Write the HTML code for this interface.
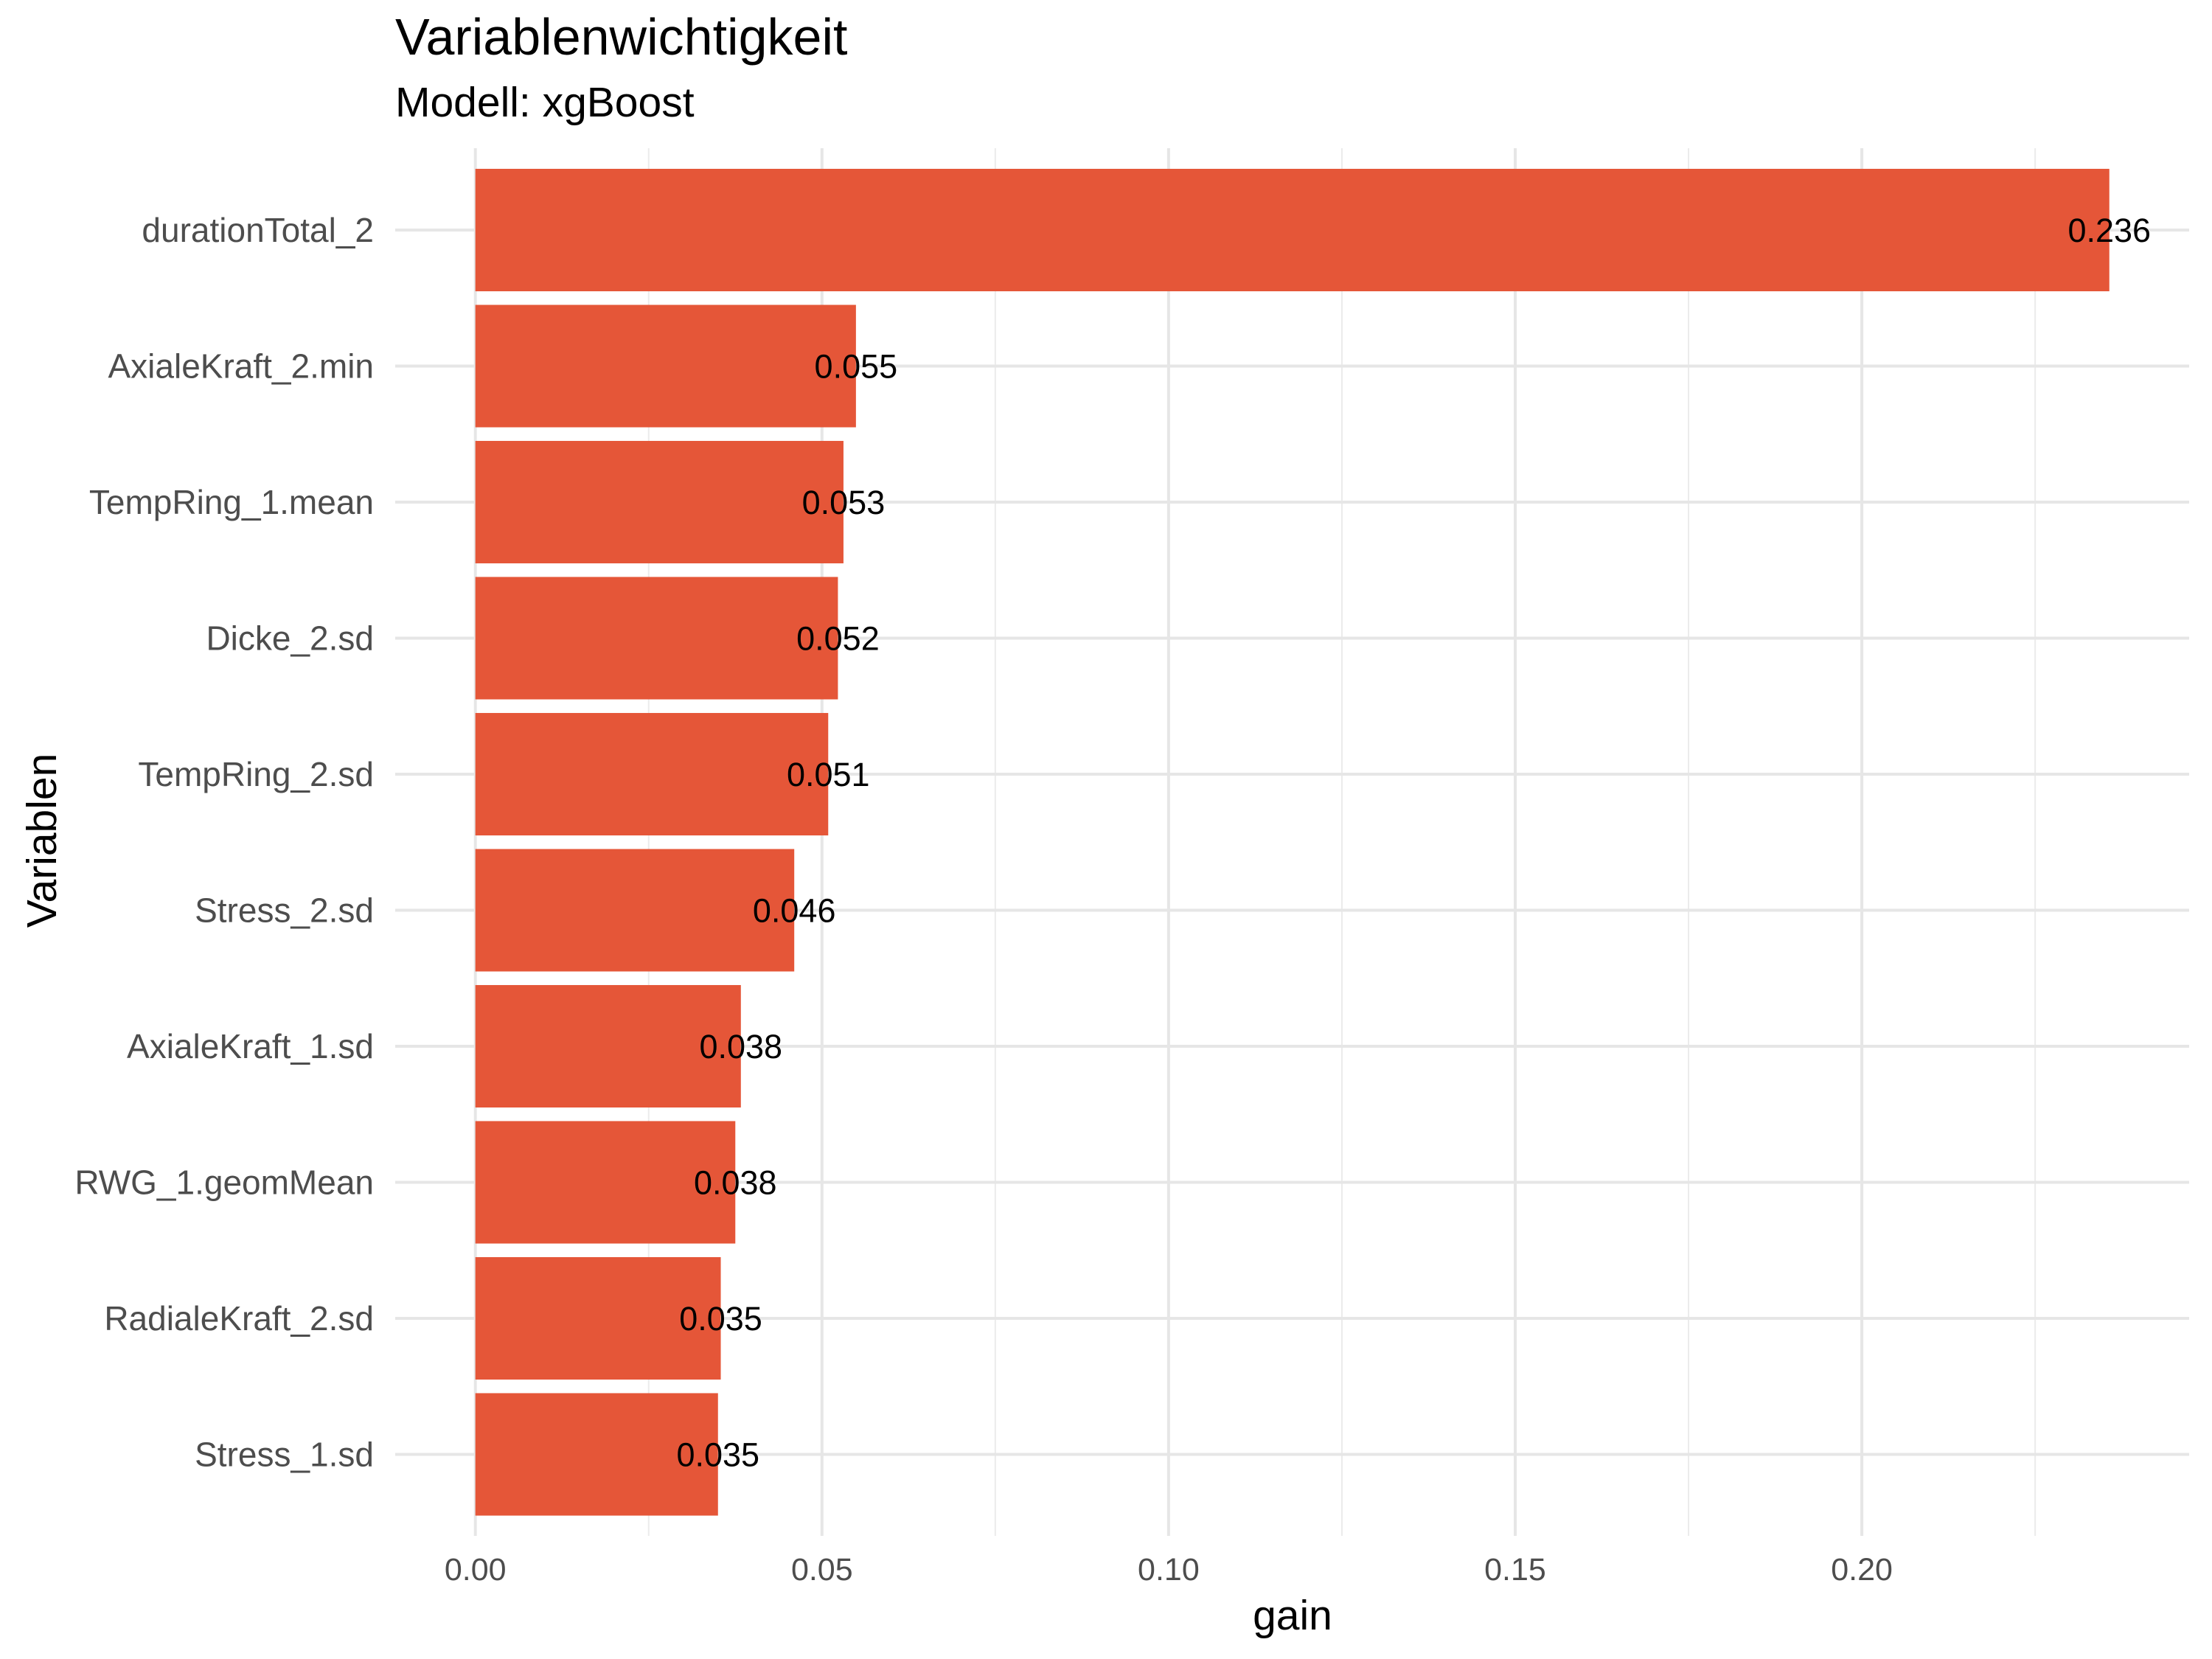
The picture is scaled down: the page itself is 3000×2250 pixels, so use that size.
<!DOCTYPE html>
<html><head><meta charset="utf-8"><style>
html,body{margin:0;padding:0;background:#fff;}
svg{display:block;font-family:"Liberation Sans",Arial,sans-serif;}
</style></head><body>
<svg id="chart" width="3000" height="2250" viewBox="0 0 3000 2250">
<text x="536" y="74" font-size="70" fill="#000">Variablenwichtigkeit</text>
<text x="536" y="158" font-size="57" fill="#000">Modell: xgBoost</text>
<text x="1753" y="2210" font-size="57" fill="#000" text-anchor="middle">gain</text>
<text transform="translate(76,1140) rotate(-90)" font-size="57" fill="#000" text-anchor="middle">Variablen</text>
<g id="grid"></g><g id="bars"></g><g id="labels"></g>
</svg>
<script>
const categories=["durationTotal_2","AxialeKraft_2.min","TempRing_1.mean","Dicke_2.sd","TempRing_2.sd","Stress_2.sd","AxialeKraft_1.sd","RWG_1.geomMean","RadialeKraft_2.sd","Stress_1.sd"];
const gains=[0.2357,0.0549,0.0531,0.0523,0.0509,0.0460,0.0383,0.0375,0.0354,0.0350];
const valueLabels=["0.236","0.055","0.053","0.052","0.051","0.046","0.038","0.038","0.035","0.035"];
const xTicks=[0,0.05,0.10,0.15,0.20];
const xTickLabels=["0.00","0.05","0.10","0.15","0.20"];
const xMinor=[0.025,0.075,0.125,0.175,0.225];

const NS="http://www.w3.org/2000/svg";
const px0=644.7, pxPerUnit=9402, panelL=536, panelR=2969, panelT=201, panelB=2083;
const yFirst=312, yStep=184.5, barH=0.9*yStep;
const X=v=>px0+v*pxPerUnit;
const Y=i=>yFirst+i*yStep;
function mk(tag,attrs,parent){const e=document.createElementNS(NS,tag);for(const k in attrs)e.setAttribute(k,attrs[k]);parent.appendChild(e);return e;}
const grid=document.getElementById('grid'),bars=document.getElementById('bars'),labels=document.getElementById('labels'),svg=document.getElementById('chart');
xMinor.forEach(v=>{const l=mk('line',{x1:X(v),x2:X(v),y1:panelT,y2:panelB,stroke:'#EBEBEB','stroke-width':2},grid);

});
xTicks.forEach((v,i)=>{const l=mk('line',{x1:X(v),x2:X(v),y1:panelT,y2:panelB,stroke:'#E6E6E6','stroke-width':4},grid);


const t=mk('text',{x:X(v),y:2143,'font-size':43,fill:'#4D4D4D','text-anchor':'middle'},svg);t.textContent=xTickLabels[i];

});
categories.forEach((c,i)=>{const l=mk('line',{x1:panelL,x2:panelR,y1:Y(i),y2:Y(i),stroke:'#E6E6E6','stroke-width':4},grid);


const t=mk('text',{x:507,y:Y(i)+16,'font-size':46,fill:'#4D4D4D','text-anchor':'end'},svg);t.textContent=c;


const b=mk('rect',{x:X(0),y:Y(i)-barH/2,width:X(gains[i])-X(0),height:barH,fill:'#E55638'},bars);


const v=mk('text',{x:X(gains[i]),y:Y(i)+16,'font-size':45,fill:'#000','text-anchor':'middle'},labels);v.textContent=valueLabels[i];

});
</script>
</body></html>
